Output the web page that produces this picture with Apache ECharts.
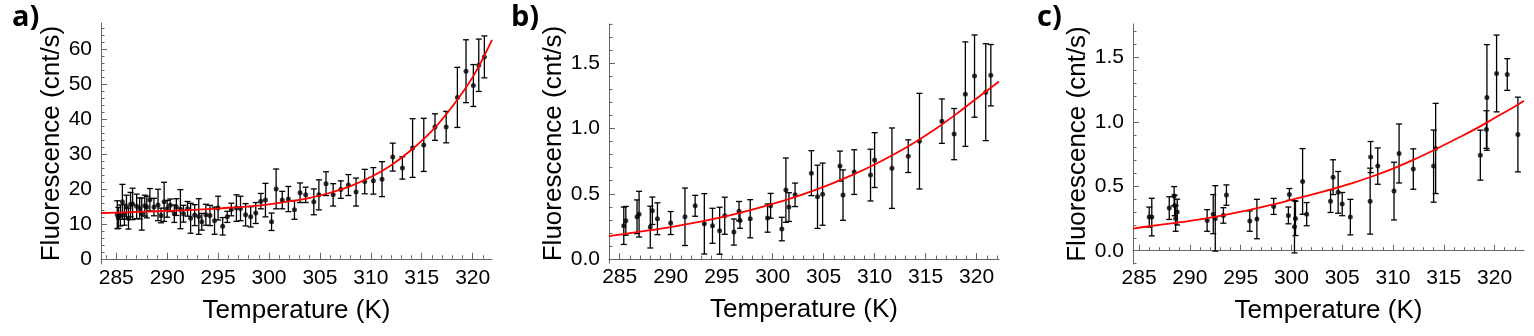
<!DOCTYPE html>
<html>
<head>
<meta charset="utf-8">
<script src="https://cdn.jsdelivr.net/npm/echarts@6/dist/echarts.min.js"></script>
<style>
  html, body { margin: 0; padding: 0; background: #fff; }
  #chart { width: 1534px; height: 336px; }
</style>
</head>
<body>
<div id="chart"></div>
<script>
// panel a) data: temperature (K), fluorescence (cnt/s), error half-width
const tempA = [285.1, 285.2, 285.4, 285.6, 285.8, 286.0, 286.2, 286.4, 286.6, 287.0, 287.3, 287.5, 287.8, 288.0, 288.3, 288.7, 289.1, 289.4, 289.7, 290.0, 290.3, 290.7, 290.9, 291.3, 291.6, 292.0, 292.3, 292.7, 293.1, 293.4, 293.8, 294.2, 294.65, 295.0, 295.45, 295.9, 296.3, 296.8, 297.2, 297.7, 298.2, 298.7, 299.2, 299.65, 300.25, 300.7, 301.3, 301.9, 302.5, 303.05, 303.6, 304.4, 304.9, 305.6, 306.3, 307.05, 307.8, 308.55, 309.4, 310.25, 311.1, 312.15, 313.1, 314.1, 315.2, 316.3, 317.4, 318.5, 319.35, 320.07, 320.6, 321.15];
const fluorA = [12.6, 11.7, 12.4, 16.3, 12.6, 14.8, 11.5, 15.5, 15.7, 15.0, 14.4, 12.8, 15.2, 14.8, 16.9, 14.8, 15.4, 12.4, 16.3, 14.3, 15.3, 12.9, 14.8, 14.2, 12.9, 14.3, 11.6, 12.5, 12.1, 10.6, 12.6, 12.4, 10.9, 14.5, 9.3, 12.0, 14.1, 14.5, 14.4, 12.6, 12.0, 13.1, 16.5, 16.8, 10.6, 20.0, 16.8, 17.1, 14.0, 18.9, 18.3, 16.3, 18.3, 21.5, 18.3, 19.8, 21.1, 19.1, 22.1, 22.3, 22.8, 29.1, 26.0, 31.7, 32.6, 37.7, 37.7, 46.2, 53.7, 49.6, 55.4, 57.8];
const errA = [4.0, 3.0, 3.0, 5.0, 3.0, 3.4, 3.0, 3.5, 4.5, 3.5, 3.0, 4.6, 3.0, 3.1, 3.2, 2.5, 4.5, 2.1, 5.6, 2.4, 1.8, 2.5, 2.4, 5.6, 2.4, 2.1, 4.3, 3.0, 5.1, 2.4, 3.0, 2.9, 3.9, 3.4, 2.5, 1.6, 1.8, 3.8, 3.5, 3.2, 2.9, 3.0, 2.2, 4.8, 2.5, 5.7, 2.5, 3.6, 2.7, 2.8, 2.2, 3.7, 4.3, 3.4, 3.2, 2.5, 3.0, 4.0, 3.5, 3.8, 5.0, 4.0, 3.2, 8.4, 7.6, 3.8, 4.5, 8.6, 9.0, 6.0, 7.5, 6.0];
const fitTempA = [283.5, 286, 288, 290, 292, 294, 296, 298, 300, 302, 304, 306, 308, 310, 312, 314, 316, 318, 320, 321.9];
const fitA = [13.1, 13.3, 13.5, 13.7, 13.9, 14.2, 14.6, 15.0, 15.6, 16.4, 17.4, 18.9, 20.8, 23.4, 26.8, 31.2, 36.6, 43.6, 52.0, 62.7];

// panel b)
const tempB = [285.4, 285.6, 286.7, 286.9, 288.0, 288.2, 288.7, 290.0, 291.4, 292.4, 293.3, 294.1, 294.8, 295.3, 296.2, 296.7, 296.8, 297.8, 299.5, 299.8, 300.9, 301.3, 301.6, 302.2, 303.8, 304.4, 304.9, 306.6, 306.9, 308.0, 309.6, 310.0, 311.7, 313.3, 314.4, 316.6, 317.8, 318.9, 319.8, 320.9, 321.4];
const fluorB = [0.255, 0.293, 0.324, 0.344, 0.245, 0.370, 0.309, 0.276, 0.324, 0.408, 0.270, 0.255, 0.217, 0.332, 0.207, 0.367, 0.296, 0.309, 0.314, 0.408, 0.230, 0.528, 0.398, 0.492, 0.658, 0.477, 0.497, 0.712, 0.490, 0.666, 0.643, 0.758, 0.696, 0.788, 0.903, 1.056, 0.957, 1.263, 1.401, 1.278, 1.408];
const errB = [0.143, 0.11, 0.129, 0.175, 0.16, 0.105, 0.122, 0.088, 0.22, 0.08, 0.231, 0.134, 0.18, 0.142, 0.1, 0.074, 0.06, 0.146, 0.108, 0.095, 0.09, 0.246, 0.11, 0.09, 0.172, 0.242, 0.238, 0.115, 0.193, 0.171, 0.198, 0.21, 0.308, 0.125, 0.366, 0.17, 0.196, 0.4, 0.315, 0.371, 0.235];
const fitTempB = [283.95, 286, 288, 290, 292, 294, 296, 298, 300, 302, 304, 306, 308, 310, 312, 314, 316, 318, 320, 322.2];
const fitB = [0.176, 0.199, 0.221, 0.245, 0.273, 0.304, 0.339, 0.378, 0.422, 0.47, 0.524, 0.584, 0.65, 0.724, 0.806, 0.897, 0.998, 1.11, 1.23, 1.36];

// panel c)
const tempC = [286.0, 286.25, 287.97, 288.45, 288.5, 288.6, 288.75, 291.7, 292.3, 292.5, 293.3, 293.6, 295.9, 296.6, 298.25, 299.7, 299.8, 300.3, 300.4, 301.1, 301.5, 303.85, 304.1, 304.6, 305.0, 305.8, 307.8, 307.75, 308.5, 310.1, 310.6, 312.0, 314.0, 314.2, 318.6, 319.2, 319.25, 320.2, 321.25, 322.3];
const fluorC = [0.261, 0.261, 0.331, 0.424, 0.352, 0.251, 0.300, 0.235, 0.284, 0.251, 0.274, 0.432, 0.230, 0.246, 0.344, 0.274, 0.437, 0.186, 0.251, 0.538, 0.284, 0.385, 0.571, 0.453, 0.362, 0.261, 0.727, 0.385, 0.657, 0.463, 0.755, 0.634, 0.657, 0.794, 0.742, 0.941, 1.190, 1.376, 1.368, 0.902];
const errC = [0.078, 0.146, 0.088, 0.074, 0.08, 0.1, 0.1, 0.084, 0.152, 0.254, 0.06, 0.079, 0.079, 0.153, 0.062, 0.065, 0.046, 0.203, 0.133, 0.255, 0.09, 0.088, 0.135, 0.162, 0.09, 0.138, 0.121, 0.256, 0.141, 0.224, 0.229, 0.157, 0.28, 0.35, 0.194, 0.146, 0.41, 0.298, 0.123, 0.29];
const fitTempC = [284.4, 286, 288, 290, 292, 294, 296, 298, 300, 302, 304, 306, 308, 310, 312, 314, 316, 318, 320, 322, 322.9];
const fitC = [0.172, 0.19, 0.21, 0.232, 0.257, 0.287, 0.32, 0.355, 0.395, 0.435, 0.478, 0.525, 0.578, 0.638, 0.705, 0.78, 0.86, 0.94, 1.03, 1.12, 1.165];

// tick labels
const xTicks = [285, 290, 295, 300, 305, 310, 315, 320];
const yTicksA = [0, 10, 20, 30, 40, 50, 60];
const yTicksBC = [0, 0.5, 1.0, 1.5];

const range = (a, b, step) => {
  const out = [];
  for (let v = a; v <= b + 1e-9; v += step) out.push(Math.round(v * 1000) / 1000);
  return out;
};

const FONT = "Liberation Sans";
const axisColor = "#666";

const panels = [
  { label: "a)", labelLeft: 12, grid: { left: 101, top: 23, width: 391, height: 241 },
    xMin: 283.5, xMax: 321.9, yMin: -1.5, yMax: 67.5,
    yTicks: yTicksA, xMinor: range(284, 321, 1), yMinor: range(0, 66, 2), fmt: v => String(v),
    temp: tempA, fluor: fluorA, err: errA, fitT: fitTempA, fit: fitA },
  { label: "b)", labelLeft: 511, grid: { left: 609, top: 24, width: 390, height: 239 },
    xMin: 283.95, xMax: 322.2, yMin: -0.03, yMax: 1.8,
    yTicks: yTicksBC, xMinor: range(284, 322, 1), yMinor: range(0, 1.8, 0.1), fmt: v => v.toFixed(1),
    temp: tempB, fluor: fluorB, err: errB, fitT: fitTempB, fit: fitB },
  { label: "c)", labelLeft: 1037, grid: { left: 1133, top: 24, width: 391, height: 240 },
    xMin: 284.4, xMax: 322.9, yMin: -0.103, yMax: 1.76,
    yTicks: yTicksBC, xMinor: range(285, 322, 1), yMinor: range(-0.1, 1.7, 0.1), fmt: v => v.toFixed(1),
    temp: tempC, fluor: fluorC, err: errC, fitT: fitTempC, fit: fitC }
];

const grids = [], xAxes = [], yAxes = [], series = [], titles = [];

panels.forEach((p, k) => {
  grids.push(p.grid);
  titles.push({
    text: p.label, left: p.labelLeft, top: 3, padding: 0,
    textStyle: { fontFamily: "Open Sans", fontWeight: "bold", fontSize: 29, color: "#000" }
  });

  // main x axis with major ticks and labels
  xAxes.push({
    type: "value", gridIndex: k, min: p.xMin, max: p.xMax, position: "bottom",
    name: "Temperature (K)", nameLocation: "middle", nameGap: 34,
    nameTextStyle: { fontFamily: FONT, fontSize: 26, color: "#000" },
    axisLine: { show: true, lineStyle: { color: axisColor, width: 1 } },
    axisTick: { show: true, inside: true, length: 6, customValues: xTicks, lineStyle: { color: axisColor } },
    axisLabel: { customValues: xTicks, margin: 4, fontFamily: FONT, fontSize: 21, color: "#000" },
    splitLine: { show: false }
  });
  // minor x ticks
  xAxes.push({
    type: "value", gridIndex: k, min: p.xMin, max: p.xMax, position: "bottom", offset: 0,
    axisLine: { show: false },
    axisTick: { show: true, inside: true, length: 3.5, customValues: p.xMinor, lineStyle: { color: axisColor } },
    axisLabel: { show: false },
    splitLine: { show: false }
  });

  yAxes.push({
    type: "value", gridIndex: k, min: p.yMin, max: p.yMax, position: "left",
    name: "Fluorescence (cnt/s)", nameLocation: "middle", nameGap: 34,
    nameTextStyle: { fontFamily: FONT, fontSize: 26, color: "#000" },
    axisLine: { show: true, lineStyle: { color: axisColor, width: 1 } },
    axisTick: { show: true, inside: true, length: 6, customValues: p.yTicks, lineStyle: { color: axisColor } },
    axisLabel: { customValues: p.yTicks, margin: 9, formatter: p.fmt, fontFamily: FONT, fontSize: 21, color: "#000" },
    splitLine: { show: false }
  });
  yAxes.push({
    type: "value", gridIndex: k, min: p.yMin, max: p.yMax, position: "left", offset: 0,
    axisLine: { show: false },
    axisTick: { show: true, inside: true, length: 3.5, customValues: p.yMinor, lineStyle: { color: axisColor } },
    axisLabel: { show: false },
    splitLine: { show: false }
  });

  const xi = 2 * k, yi = 2 * k;

  // error bars
  series.push({
    type: "custom", xAxisIndex: xi, yAxisIndex: yi, z: 2, silent: true,
    data: p.temp.map((t, i) => [t, p.fluor[i] - p.err[i], p.fluor[i] + p.err[i]]),
    encode: { x: 0, y: [1, 2] },
    renderItem: (params, api) => {
      const top = api.coord([api.value(0), api.value(2)]);
      const bot = api.coord([api.value(0), api.value(1)]);
      const w = 3;
      const st = { stroke: "#000", lineWidth: 1.3 };
      return {
        type: "group",
        children: [
          { type: "line", shape: { x1: top[0], y1: top[1], x2: bot[0], y2: bot[1] }, style: st },
          { type: "line", shape: { x1: top[0] - w, y1: top[1], x2: top[0] + w, y2: top[1] }, style: st },
          { type: "line", shape: { x1: bot[0] - w, y1: bot[1], x2: bot[0] + w, y2: bot[1] }, style: st }
        ]
      };
    }
  });

  // data points
  series.push({
    type: "scatter", xAxisIndex: xi, yAxisIndex: yi, z: 3, silent: true,
    symbolSize: 5, itemStyle: { color: "#000" },
    data: p.temp.map((t, i) => [t, p.fluor[i]])
  });

  // fitted curve
  series.push({
    type: "line", xAxisIndex: xi, yAxisIndex: yi, z: 4, silent: true,
    smooth: 0.4, showSymbol: false, clip: true,
    lineStyle: { color: "#ff0000", width: 1.8 },
    data: p.fitT.map((t, i) => [t, p.fit[i]])
  });
});

const chart = echarts.init(document.getElementById("chart"));
chart.setOption({
  backgroundColor: "#fff",
  animation: false,
  title: titles,
  grid: grids,
  xAxis: xAxes,
  yAxis: yAxes,
  series: series
});
</script>
</body>
</html>
